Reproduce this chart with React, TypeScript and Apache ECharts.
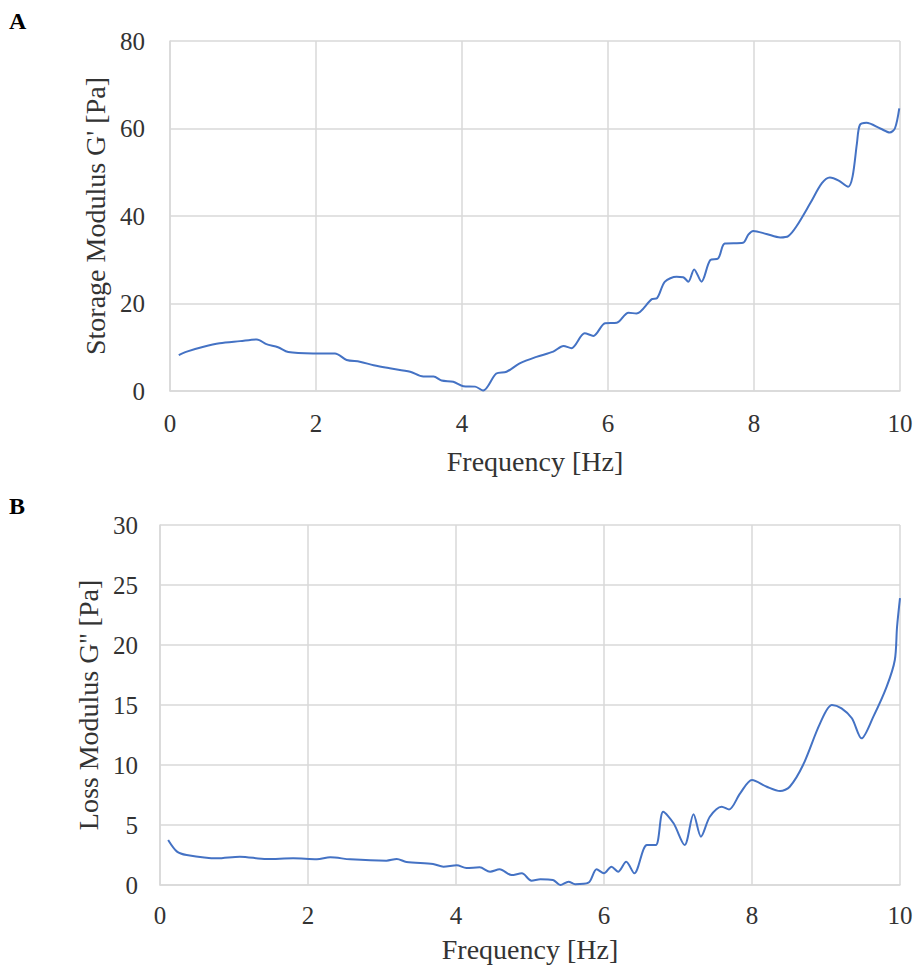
import React, { useEffect, useRef } from "react";
import * as echarts from "echarts";

// Panel A: storage modulus vs frequency
const freqA: number[] = [
  0.12, 0.23, 0.46, 0.68, 0.96, 1.19, 1.32, 1.48, 1.62, 1.96, 2.26, 2.42, 2.6, 2.79, 3.01, 3.29, 3.47, 3.61,
  3.72, 3.88, 4.02, 4.18, 4.29, 4.47, 4.61, 4.79, 5.02, 5.25, 5.39, 5.5, 5.68, 5.8, 5.96, 6.12, 6.28, 6.39,
  6.6, 6.67, 6.78, 6.94, 7.03, 7.1, 7.18, 7.28, 7.4, 7.51, 7.6, 7.85, 7.92, 7.99, 8.17, 8.36, 8.47, 8.58,
  8.77, 8.93, 9.04, 9.16, 9.29, 9.35, 9.41, 9.45, 9.54, 9.73, 9.86, 9.93, 9.99,
];
const storageModulus: number[] = [
  8.2, 9.0, 10.1, 10.9, 11.4, 11.8, 10.7, 10.0, 8.9, 8.6, 8.6, 7.1, 6.7, 5.9, 5.2, 4.4, 3.3, 3.3,
  2.4, 2.1, 1.1, 1.0, 0.1, 4.0, 4.4, 6.3, 7.8, 9.0, 10.3, 9.8, 13.2, 12.6, 15.5, 15.6, 17.9, 17.7,
  21.0, 21.2, 25.0, 26.1, 26.0, 25.0, 27.8, 25.0, 29.9, 30.3, 33.7, 33.9, 35.7, 36.6, 35.9, 35.1, 35.4, 37.6,
  42.9, 47.5, 48.8, 48.1, 46.7, 49.0, 56.6, 60.8, 61.3, 60.0, 59.1, 60.0, 64.6,
];

// Panel B: loss modulus vs frequency
const freqB: number[] = [
  0.11, 0.23, 0.36, 0.77, 1.08, 1.44, 1.8, 2.12, 2.3, 2.57, 3.06, 3.2, 3.33, 3.69, 3.83, 4.01, 4.14, 4.32,
  4.46, 4.59, 4.75, 4.89, 5.02, 5.14, 5.31, 5.41, 5.52, 5.61, 5.79, 5.9, 6.0, 6.1, 6.19, 6.3, 6.41, 6.58,
  6.7, 6.8, 6.94, 7.09, 7.21, 7.31, 7.43, 7.59, 7.69, 7.84, 8.0, 8.2, 8.38, 8.51, 8.69, 8.92, 9.08, 9.21,
  9.35, 9.48, 9.64, 9.82, 9.93, 9.96, 10.0,
];
const lossModulus: number[] = [
  3.75, 2.78, 2.5, 2.22, 2.36, 2.17, 2.22, 2.14, 2.31, 2.14, 2.03, 2.17, 1.92, 1.75, 1.53, 1.64, 1.42, 1.47,
  1.11, 1.31, 0.83, 0.97, 0.36, 0.47, 0.42, 0.0, 0.28, 0.06, 0.19, 1.31, 0.97, 1.53, 1.11, 1.94, 0.97, 3.33,
  3.33, 6.1, 5.14, 3.33, 5.9, 4.03, 5.69, 6.53, 6.3, 7.64, 8.75, 8.19, 7.83, 8.19, 10.0, 13.47, 15.0, 14.72,
  13.89, 12.22, 14.03, 16.53, 18.75, 21.5, 23.9,
];

const xTitle = "Frequency [Hz]";
const yTitleA = "Storage Modulus G' [Pa]";
const yTitleB = "Loss Modulus G'' [Pa]";

const FONT = "'Liberation Serif', 'Times New Roman', serif";
const TEXT = "#333333";
const GRID_LINE = "#d9d9d9";
const LINE = "#4472c4";

function pairs(xs: number[], ys: number[]): number[][] {
  return xs.map((x, i) => [x, ys[i]]);
}

function xAxis(gridIndex: number, margin: number, nameGap: number) {
  return {
    type: "value",
    gridIndex,
    min: 0,
    max: 10,
    interval: 2,
    name: xTitle,
    nameLocation: "middle",
    nameGap,
    nameTextStyle: { fontFamily: FONT, fontSize: 28, color: TEXT },
    axisLine: { show: true, lineStyle: { color: GRID_LINE, width: 1.5 } },
    axisTick: { show: false },
    axisLabel: { fontFamily: FONT, fontSize: 25, color: TEXT, margin },
    splitLine: { show: true, lineStyle: { color: GRID_LINE, width: 1.5 } },
  };
}

function yAxis(gridIndex: number, max: number, interval: number, name: string, nameGap: number, margin: number) {
  return {
    type: "value",
    gridIndex,
    min: 0,
    max,
    interval,
    name,
    nameLocation: "middle",
    nameGap,
    nameTextStyle: { fontFamily: FONT, fontSize: 28, color: TEXT },
    axisLine: { show: true, lineStyle: { color: GRID_LINE, width: 1.5 } },
    axisTick: { show: false },
    axisLabel: { fontFamily: FONT, fontSize: 25, color: TEXT, margin },
    splitLine: { show: true, lineStyle: { color: GRID_LINE, width: 1.5 } },
  };
}

export default function App() {
  const ref = useRef<HTMLDivElement>(null);

  useEffect(() => {
    if (!ref.current) return;
    const chart = echarts.init(ref.current, undefined, { renderer: "svg" });
    chart.setOption({
      animation: false,
      backgroundColor: "#ffffff",
      grid: [
        { left: 170, top: 41, width: 730, height: 350 },
        { left: 160, top: 525, width: 740, height: 360 },
      ],
      xAxis: [xAxis(0, 20, 56), xAxis(1, 18, 50)],
      yAxis: [
        yAxis(0, 80, 20, yTitleA, 59, 25),
        yAxis(1, 30, 5, yTitleB, 49, 22),
      ],
      graphic: [
        {
          type: "text",
          left: 9,
          top: 9,
          style: { text: "A", font: `bold 24px ${FONT}`, fill: "#000" },
        },
        {
          type: "text",
          left: 9,
          top: 494,
          style: { text: "B", font: `bold 24px ${FONT}`, fill: "#000" },
        },
      ],
      series: [
        {
          type: "line",
          xAxisIndex: 0,
          yAxisIndex: 0,
          data: pairs(freqA, storageModulus),
          smooth: 0.3,
          showSymbol: false,
          lineStyle: { color: LINE, width: 2 },
        },
        {
          type: "line",
          xAxisIndex: 1,
          yAxisIndex: 1,
          data: pairs(freqB, lossModulus),
          smooth: 0.3,
          showSymbol: false,
          lineStyle: { color: LINE, width: 2 },
        },
      ],
    });
    return () => chart.dispose();
  }, []);

  return (
    <div
      ref={ref}
      style={{ position: "fixed", left: 0, top: 0, width: 916, height: 967 }}
    />
  );
}
